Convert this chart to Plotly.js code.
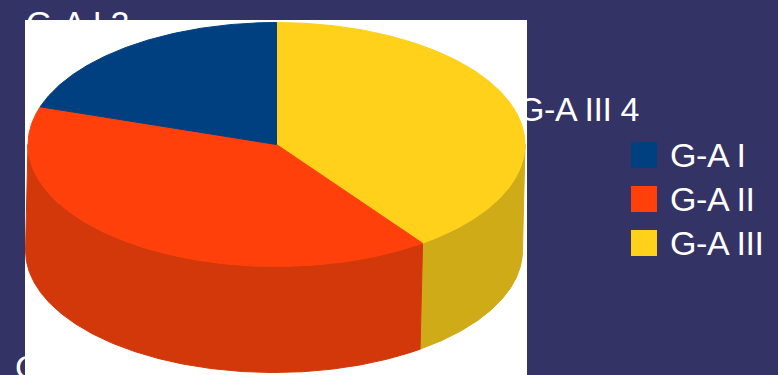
<!DOCTYPE html>
<html>
<head>
<meta charset="utf-8">
<script src="https://cdn.plot.ly/plotly-3.0.1.min.js"></script>
<style>
html, body { margin: 0; padding: 0; background: #343366; overflow: hidden; }
#chart { width: 778px; height: 375px; }
#chart .textpoint text { letter-spacing: -0.4px; }
</style>
</head>
<body>
<div id="chart"></div>
<script>
// Shares of the three groups, in legend order
const categories = ["G-A I", "G-A II", "G-A III"];
const values = [2, 4, 4];
const topColors = ["#004080", "#FF400A", "#FFD11A"];
const wallColors = ["#003366", "#D2380A", "#CFAB18"];

// Extruded pie geometry, in the pixel-scaled axes below
const cx = 276.5, cy = 144.5, rx = 248.5, ry = 122, depth = 106, skew = -2.5;
const total = values.reduce((a, b) => a + b, 0);

function arc(from, to, drop, shift) {
  const n = Math.max(2, Math.ceil(Math.abs(to - from) / 0.01));
  const xs = [], ys = [];
  for (let i = 0; i <= n; i++) {
    const t = from + (to - from) * i / n;
    xs.push(cx + shift + rx * Math.sin(t));
    ys.push(cy + drop - ry * Math.cos(t));
  }
  return [xs, ys];
}

// A thin outline in the fill colour closes the seams between neighbouring areas
function filled(x, y, color, edge) {
  return { type: "scatter", mode: "lines", x, y, fill: "toself", fillcolor: color,
           line: { width: edge, color }, hoverinfo: "skip", showlegend: false };
}

// Slices run clockwise from twelve o'clock, starting with the last category
const slices = [];
let angle = 0;
for (let i = categories.length - 1; i >= 0; i--) {
  const sweep = values[i] / total * 2 * Math.PI;
  slices.push({ i, from: angle, to: angle + sweep });
  angle += sweep;
}

// Side walls are visible only on the front half, from 3 to 9 o'clock
const walls = [];
slices.forEach(s => {
  const a = Math.max(s.from, Math.PI / 2), b = Math.min(s.to, 3 * Math.PI / 2);
  if (b <= a) return;
  const [tx, ty] = arc(a, b, 0, 0);
  const [bx, by] = arc(b, a, depth, skew);
  walls.push(filled(tx.concat(bx, [tx[0]]), ty.concat(by, [ty[0]]), wallColors[s.i], 1));
});

const faces = slices.map(s => {
  const [x, y] = arc(s.from, s.to, 0, 0);
  return filled([cx].concat(x, [cx]), [cy].concat(y, [cy]), topColors[s.i], 1);
});

const textFont = { family: "Liberation Sans, Arial, sans-serif", size: 34, color: "#FFFFFF" };

// Data labels sit behind the white panel and are partly covered by it
const labelX = [26, 15, 518];
const labelY = [26, 370, 112];
const dataLabels = {
  type: "scatter", mode: "text", x: labelX, y: labelY, cliponaxis: false,
  text: categories.map((c, i) => c + " " + values[i]),
  textposition: "middle right", textfont: textFont,
  hoverinfo: "skip", showlegend: false
};

const panel = filled([25, 527, 527, 25, 25], [20, 20, 375, 375, 20], "#FFFFFF", 0);

// Legend: square swatches with their category names
const legendY = [155, 199, 243];
const legendSwatches = {
  type: "scatter", mode: "markers",
  x: categories.map(() => 644), y: legendY,
  marker: { symbol: "square", size: 26, color: topColors, line: { width: 0 } },
  cliponaxis: false, hoverinfo: "skip", showlegend: false
};
const legendNames = {
  type: "scatter", mode: "text",
  x: categories.map(() => 670), y: legendY.map(v => v + 3),
  text: categories, textposition: "middle right", textfont: textFont,
  cliponaxis: false, hoverinfo: "skip", showlegend: false
};

const layout = {
  width: 778, height: 375,
  margin: { l: 0, r: 0, t: 0, b: 0 },
  paper_bgcolor: "#343366", plot_bgcolor: "#343366",
  showlegend: false,
  xaxis: { range: [0, 778], visible: false, fixedrange: true },
  yaxis: { range: [375, 0], visible: false, fixedrange: true }
};

Plotly.newPlot("chart", [dataLabels, panel].concat(walls, faces, [legendSwatches, legendNames]), layout,
  { displayModeBar: false, staticPlot: true });
</script>
</body>
</html>
